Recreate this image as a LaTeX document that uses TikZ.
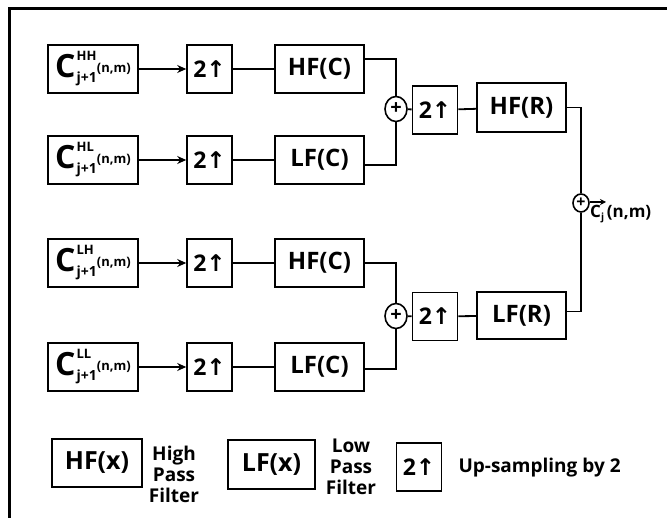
\documentclass[tikz,border=0pt]{standalone}
\usepackage{fontspec}
\setmainfont{Open Sans}
\newfontfamily\arrowfont{DejaVu Sans}
\usepackage{tikz}
\usetikzlibrary{arrows.meta,positioning,calc,shapes.geometric}
\newcommand{\coef}[1]{{\fontsize{32}{32}\selectfont C}\kern1pt\rlap{\raisebox{17pt}{\fontsize{13}{13}\selectfont #1}}\raisebox{-5pt}{\fontsize{14}{14}\selectfont j+1}\raisebox{5pt}{\fontsize{13}{13}\selectfont (n,m)}}
\newcommand{\upby}{2{\arrowfont\char"2191}}
\tikzset{
  coefbox/.style={draw,line width=1.6pt,minimum width=90pt,minimum height=48pt,inner sep=0pt,
    font=\bfseries},
  upbox/.style={draw,line width=1.6pt,minimum width=45pt,minimum height=48pt,inner sep=0pt,
    font=\bfseries\fontsize{23}{23}\selectfont},
  filterbox/.style={draw,line width=1.6pt,minimum width=89pt,minimum height=48pt,inner sep=0pt,
    font=\bfseries\fontsize{24}{24}\selectfont},
  sumnode/.style={draw,ellipse,line width=1.6pt,minimum width=22pt,minimum height=25pt,inner sep=0pt,
    font=\bfseries\fontsize{20}{20}\selectfont},
  link/.style={line width=1.8pt},
  flowarrow/.style={-{Stealth[length=9pt,width=8pt]},line width=1.8pt},
  legendtext/.style={font=\bfseries\fontsize{19}{21}\selectfont,align=center}
}
\begin{document}
\begin{tikzpicture}[x=1pt,y=-1pt]
  \useasboundingbox (0,0) rectangle (667,518);
  \draw[line width=3pt] (9,518) -- (9,9) -- (667,9);
  % input coefficients
  \node[coefbox] (cin1) at (93,69) {\coef{HH}};
  \node[coefbox] (cin2) at (93,160) {\coef{HL}};
  \node[coefbox] (cin3) at (93,263) {\coef{LH}};
  \node[coefbox] (cin4) at (93,367) {\coef{LL}};
  % up-sampling of the columns
  \node[upbox] (up1) at (209.5,69) {\upby};
  \node[upbox] (up2) at (209.5,160) {\upby};
  \node[upbox] (up3) at (209.5,263) {\upby};
  \node[upbox] (up4) at (209.5,367) {\upby};
  \node[filterbox] (filt1) at (319.5,69) {HF(C)};
  \node[filterbox] (filt2) at (319.5,160) {LF(C)};
  \node[filterbox] (filt3) at (319.5,263) {HF(C)};
  \node[filterbox] (filt4) at (319.5,367) {LF(C)};
  \foreach \i in {1,...,4}{
    \draw[flowarrow] (cin\i) -- (up\i);
    \draw[link] (up\i) -- (filt\i);
  }
  % sums and rows
  \node[sumnode] (sum1) at (396,109) {+};
  \node[sumnode] (sum2) at (396,316) {+};
  \draw[link] ([yshift=10pt]filt1.east) -| (sum1.north);
  \draw[link] ([yshift=-5pt]filt2.east) -| (sum1.south);
  \draw[link] (filt3.east) -| (sum2.north);
  \draw[link] ([yshift=-2pt]filt4.east) -| (sum2.south);
  \node[upbox] (upr1) at (435,110) {\upby};
  \node[upbox] (upr2) at (435,316.5) {\upby};
  \node[filterbox,minimum height=49pt] (hfr) at (521.5,107.5) {HF(R)};
  \node[filterbox,minimum height=47pt] (lfr) at (521.5,315.5) {LF(R)};
  \draw[link] (sum1) -- (upr1);
  \draw[link] (upr1) -- (hfr);
  \draw[link] (sum2) -- (upr2);
  \draw[link] (upr2) -- (lfr);
  \node[sumnode,minimum width=16pt,minimum height=18pt,font=\bfseries\fontsize{16}{16}\selectfont] (sum3) at (581,203) {+};
  \draw[link] (hfr.east) -| (sum3.north);
  \draw[link] ([yshift=4pt]lfr.east) -| (sum3.south);
  \coordinate (out) at (606,202);
  \draw[-{Stealth[length=6pt,width=6pt]},line width=1.4pt] (sum3.east |- out) -- (out);
  \node[font=\bfseries\fontsize{17}{17}\selectfont,anchor=west,inner sep=0pt] (cout) at (590,214)
    {C\raisebox{-3pt}{\fontsize{10}{10}\selectfont j}\,(n,m)};
  % legend
  \node[filterbox,minimum width=90pt,font=\bfseries\fontsize{25}{25}\selectfont] (lghf) at (97,463) {HF(x)};
  \node[legendtext] (lghftext) at (174,474) {High\\Pass\\Filter};
  \node[filterbox,minimum width=87pt,minimum height=49pt,font=\bfseries\fontsize{25}{25}\selectfont] (lglf) at (271.5,464.5) {LF(x)};
  \node[legendtext] (lglftext) at (351,467) {Low\\Pass\\Filter};
  \node[upbox] (lgup) at (419,467) {\upby};
  \node[legendtext,anchor=west] (lguptext) at (455,468) {Up-sampling by 2};
\end{tikzpicture}
\end{document}
